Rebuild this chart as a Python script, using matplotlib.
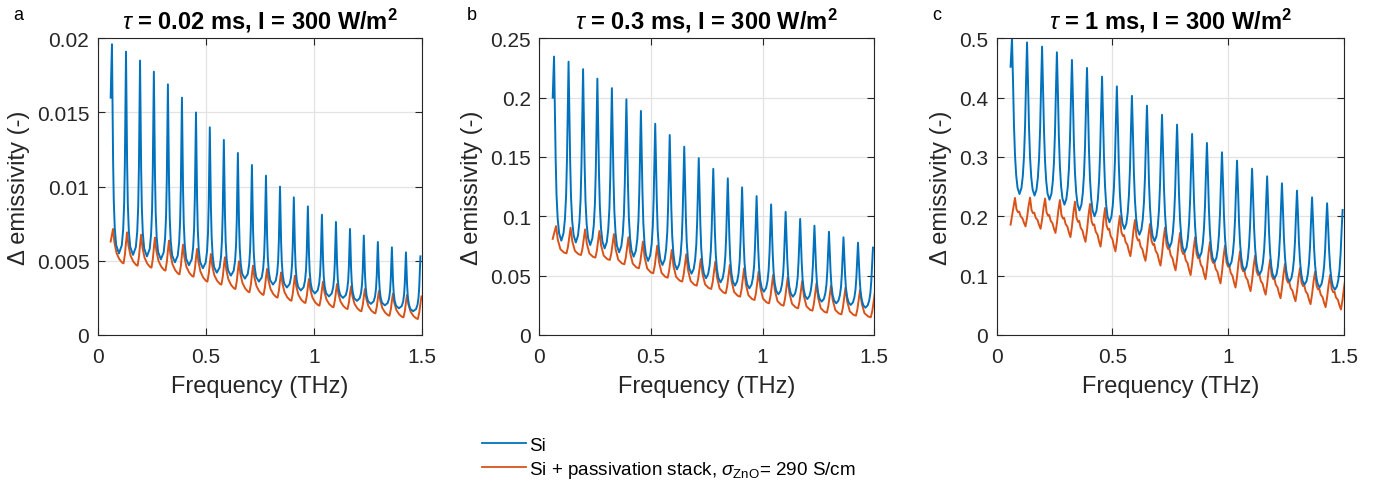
import numpy as np
import matplotlib
matplotlib.use('Agg')
import matplotlib.pyplot as plt
from matplotlib.lines import Line2D

plt.rcParams['font.family'] = ['Liberation Sans', 'DejaVu Sans']
plt.rcParams['mathtext.fontset'] = 'custom'
plt.rcParams['mathtext.rm'] = 'Liberation Sans'
plt.rcParams['mathtext.it'] = 'Liberation Sans:italic'
plt.rcParams['mathtext.bf'] = 'Liberation Sans:bold'

################### data ##################
# peak frequencies (THz) of the Si fringes, shared by the three panels
peak_freq = [0.066, 0.131, 0.196, 0.260, 0.325, 0.390, 0.455, 0.519, 0.584, 0.649,
             0.714, 0.779, 0.844, 0.908, 0.973, 1.038, 1.103, 1.168, 1.232, 1.297,
             1.362, 1.427, 1.494]
# stack fringes sit a little higher in frequency
stack_shift = [0.005, 0.009, 0.013]
start_freq = 0.06

titles = [r'$\tau$ = 0.02 ms, I = 300 W/m$^{\mathbf{2}}$',
          r'$\tau$ = 0.3 ms, I = 300 W/m$^{\mathbf{2}}$',
          r'$\tau$ = 1 ms, I = 300 W/m$^{\mathbf{2}}$']
panel_letters = ['a', 'b', 'c']
yticks = [[0, 0.005, 0.01, 0.015, 0.02],
          [0, 0.05, 0.1, 0.15, 0.2, 0.25],
          [0, 0.1, 0.2, 0.3, 0.4, 0.5]]
ytick_labels = [['0', '0.005', '0.01', '0.015', '0.02'],
                ['0', '0.05', '0.1', '0.15', '0.2', '0.25'],
                ['0', '0.1', '0.2', '0.3', '0.4', '0.5']]
xticks = [0, 0.5, 1, 1.5]
xtick_labels = ['0', '0.5', '1', '1.5']

# panel a, tau = 0.02 ms
si_start_a = 0.016
si_peaks_a = [0.0196, 0.0191, 0.0185, 0.01775, 0.0169, 0.0160, 0.0150, 0.0140, 0.01315, 0.01227,
              0.01146, 0.01074, 0.0100, 0.00928, 0.00867, 0.00811, 0.00762, 0.00715, 0.0067,
              0.00627, 0.00591, 0.00557, 0.0053]
si_troughs_a = [0.0055, 0.0054, 0.0053, 0.0051, 0.0049, 0.0047, 0.0045, 0.0042, 0.0040, 0.0038,
                0.0036, 0.0034, 0.0032, 0.0030, 0.0028, 0.0026, 0.0025, 0.0023, 0.0021, 0.0020,
                0.0018, 0.0016]
st_start_a = 0.0063
st_peaks_a = [0.00715, 0.00692, 0.00676, 0.00656, 0.00636, 0.00609, 0.0058, 0.00546, 0.00524,
              0.00497, 0.00467, 0.00445, 0.00422, 0.0040, 0.00378, 0.0036, 0.00344, 0.00328,
              0.0031, 0.00297, 0.00279, 0.0027, 0.0026]
st_troughs_a = [0.00483, 0.00467, 0.00454, 0.00434, 0.00409, 0.00393, 0.0036, 0.0034, 0.0031,
                0.00288, 0.0027, 0.00252, 0.00231, 0.00216, 0.00198, 0.00187, 0.00175, 0.0016,
                0.00146, 0.0013, 0.00119, 0.00108]

# panel b, tau = 0.3 ms
si_start_b = 0.2
si_peaks_b = [0.2346, 0.2303, 0.224, 0.216, 0.208, 0.1986, 0.1888, 0.178, 0.1685, 0.1587,
              0.149, 0.140, 0.132, 0.1244, 0.117, 0.110, 0.1037, 0.0978, 0.0921, 0.087,
              0.0823, 0.0778, 0.0736]
si_troughs_b = [0.0795, 0.078, 0.0758, 0.073, 0.0697, 0.066, 0.0624, 0.059, 0.0553, 0.0517,
                0.0478, 0.0444, 0.0416, 0.0393, 0.0365, 0.0343, 0.0323, 0.0303, 0.0281, 0.0267,
                0.0253, 0.023]
st_start_b = 0.081
st_peaks_b = [0.0918, 0.0904, 0.089, 0.0876, 0.085, 0.0823, 0.0787, 0.0753, 0.0716, 0.068,
              0.064, 0.0618, 0.059, 0.0562, 0.0534, 0.0506, 0.0483, 0.0455, 0.0435, 0.0416,
              0.0399, 0.0379, 0.036]
st_troughs_b = [0.0688, 0.0674, 0.0652, 0.0632, 0.0596, 0.0562, 0.052, 0.0483, 0.045, 0.0416,
                0.0388, 0.0351, 0.0323, 0.0295, 0.0267, 0.0247, 0.0225, 0.0205, 0.0188, 0.0174,
                0.0163, 0.0149]

# panel c, tau = 1 ms
si_start_c = 0.452
si_peaks_c = [0.5, 0.493, 0.486, 0.4764, 0.4635, 0.450, 0.4354, 0.419, 0.403, 0.3865, 0.371,
              0.3545, 0.3388, 0.3236, 0.3079, 0.2938, 0.2803, 0.2674, 0.2556, 0.2433, 0.232,
              0.222, 0.2107]
si_troughs_c = [0.2376, 0.235, 0.228, 0.2197, 0.210, 0.200, 0.190, 0.1787, 0.169, 0.158, 0.1477,
                0.1393, 0.131, 0.1225, 0.1157, 0.1084, 0.1022, 0.0955, 0.0899, 0.0848, 0.0803,
                0.0764]
st_start_c = 0.186
st_peaks_c = [0.231, 0.2315, 0.230, 0.2275, 0.2247, 0.2208, 0.214, 0.2006, 0.1938, 0.187, 0.181,
              0.172, 0.1646, 0.1567, 0.1506, 0.141, 0.1337, 0.127, 0.1197, 0.113, 0.1067,
              0.1011, 0.097]
st_troughs_c = [0.183, 0.179, 0.172, 0.165, 0.157, 0.149, 0.141, 0.133, 0.125, 0.117, 0.109,
                0.101, 0.094, 0.087, 0.080, 0.074, 0.068, 0.062, 0.057, 0.052, 0.047, 0.043]

si_label = 'Si'
st_label = r'Si + passivation stack, $\sigma_{\mathrm{ZnO}}$= 290 S/cm'

################### fringe line shapes ##################
# (phase after peak, fraction of peak-trough height, 0 = this peak / 1 = next peak)
si_shapes = [
    [(0, 1, 0), (0.04, 0.72, 0), (0.08, 0.45, 0), (0.13, 0.25, 0), (0.2, 0.12, 0),
     (0.3, 0.04, 0), (0.5, 0, 0), (0.7, 0.04, 1), (0.8, 0.12, 1), (0.87, 0.25, 1),
     (0.92, 0.45, 1), (0.96, 0.72, 1)],
    [(0, 1, 0), (0.055, 0.72, 0), (0.11, 0.45, 0), (0.17, 0.25, 0), (0.25, 0.12, 0),
     (0.35, 0.04, 0), (0.5, 0, 0), (0.65, 0.04, 1), (0.75, 0.12, 1), (0.83, 0.25, 1),
     (0.89, 0.45, 1), (0.945, 0.72, 1)],
    [(0, 1, 0), (0.07, 0.72, 0), (0.13, 0.45, 0), (0.2, 0.25, 0), (0.28, 0.12, 0),
     (0.37, 0.04, 0), (0.5, 0, 0), (0.63, 0.04, 1), (0.72, 0.12, 1), (0.8, 0.25, 1),
     (0.87, 0.45, 1), (0.93, 0.72, 1)],
]
st_shapes = [
    [(0, 1, 0), (0.1, 0.6, 0), (0.25, 0.3, 0), (0.45, 0.12, 0), (0.65, 0.02, 0),
     (0.75, 0, 0), (0.85, 0.3, 1), (0.93, 0.7, 1)],
    [(0, 1, 0), (0.12, 0.5, 0), (0.3, 0.15, 0), (0.55, 0.03, 0), (0.72, 0, 0),
     (0.82, 0.25, 1), (0.92, 0.65, 1)],
    [(0, 1, 0), (0.1, 0.6, 0), (0.2, 0.5, 0), (0.28, 0.52, 0), (0.38, 0.35, 0),
     (0.5, 0.28, 0), (0.6, 0.12, 0), (0.7, 0, 0), (0.8, 0.3, 1), (0.9, 0.7, 1)],
]


def fringe_line(px, peaks, troughs, y0, shape):
    xs = [start_freq]
    ys = [y0]
    for k in range(len(px)):
        if k == len(px) - 1:
            xs.append(px[k])
            ys.append(peaks[k])
            break
        period = px[k + 1] - px[k]
        for phase, frac, which in shape:
            vp = peaks[k + which]
            xs.append(px[k] + phase * period)
            ys.append(troughs[k] + frac * (vp - troughs[k]))
    return xs, ys


si_data = [(si_peaks_a, si_troughs_a, si_start_a),
           (si_peaks_b, si_troughs_b, si_start_b),
           (si_peaks_c, si_troughs_c, si_start_c)]
st_data = [(st_peaks_a, st_troughs_a, st_start_a),
           (st_peaks_b, st_troughs_b, st_start_b),
           (st_peaks_c, st_troughs_c, st_start_c)]

blue = '#0072BD'
orange = '#D95319'

fig = plt.figure(figsize=(13.94, 4.85), dpi=100)
W, H = 1394.0, 485.0
boxes = [(97.7, 421.7), (539.3, 874.3), (996.7, 1344.0)]
letter_x = [13, 467, 932]
top_px, bot_px = 39.3, 336.0

for i in range(3):
    l, r = boxes[i]
    ax = fig.add_axes([l / W, (H - bot_px) / H, (r - l) / W, (bot_px - top_px) / H])
    px_st = [f + stack_shift[i] for f in peak_freq]
    x, y = fringe_line(px_st, *st_data[i][:2], st_data[i][2], st_shapes[i])
    ax.plot(x, y, color=orange, lw=1.4)
    x, y = fringe_line(peak_freq, *si_data[i][:2], si_data[i][2], si_shapes[i])
    ax.plot(x, y, color=blue, lw=1.4)
    ax.set_xlim(0, 1.5)
    ax.set_ylim(yticks[i][0], yticks[i][-1])
    ax.set_xticks(xticks)
    ax.set_xticklabels(xtick_labels)
    ax.set_yticks(yticks[i])
    ax.set_yticklabels(ytick_labels[i])
    ax.grid(True, color='#e3e3e3', lw=0.9)
    ax.set_axisbelow(True)
    ax.tick_params(direction='in', top=True, right=True, labelsize=15, colors='#262626',
                   length=5, width=0.8)
    ax.tick_params(axis='x', pad=9)
    ax.tick_params(axis='y', pad=6)
    for s in ax.spines.values():
        s.set_color('#262626')
        s.set_linewidth(0.8)
    ax.set_xlabel('Frequency (THz)', fontsize=17, color='#262626', labelpad=6)
    ax.set_ylabel('\u0394 emissivity (-)', fontsize=17, color='#262626', labelpad=5)
    ax.set_title(titles[i], fontsize=17, fontweight='bold', pad=7)
    fig.text(letter_x[i] / W, 1 - 20 / H, panel_letters[i], fontsize=13, va='baseline')

handles = [Line2D([], [], color=blue, lw=1.3), Line2D([], [], color=orange, lw=1.3)]
fig.legend(handles, [si_label, st_label], loc='upper left',
           bbox_to_anchor=(473 / W, 1 - 428 / H), frameon=False, fontsize=13.6,
           handlelength=2.3, handletextpad=0.15, labelspacing=0.28, borderpad=0)

fig.savefig('out.png', dpi=100)
